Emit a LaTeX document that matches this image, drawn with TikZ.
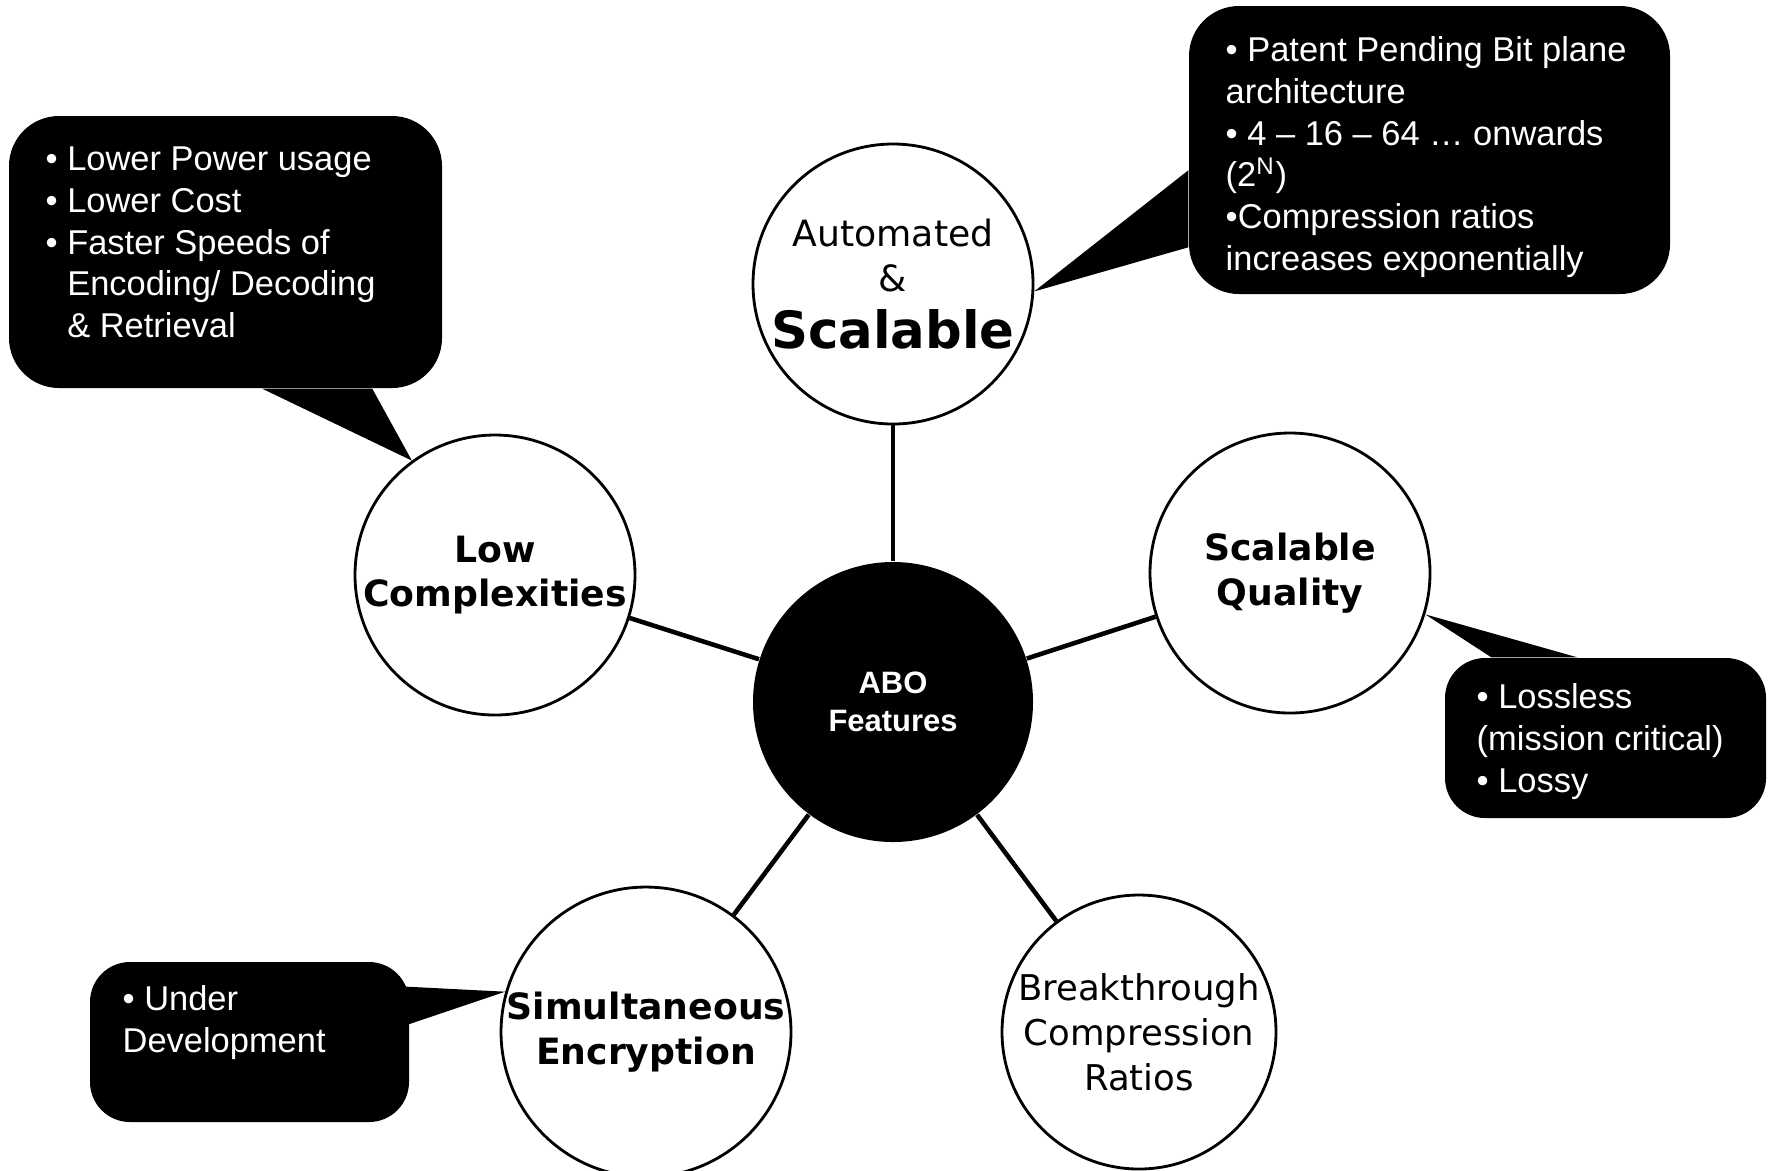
\documentclass[tikz,border=0pt]{standalone}
\usepackage{fontspec}
\setmainfont{Liberation Sans}
\newfontfamily\circfont{DejaVu Sans}

\tikzset{
	feature/.style={circle, draw=black, line width=0.8pt, fill=white,
		minimum size=28mm, inner sep=0pt, align=center,
		font=\circfont\fontsize{10.3}{12.75}\selectfont},
	lowfeature/.style={feature, minimum size=27.4mm},
	core/.style={circle, fill=black, minimum size=28mm, inner sep=0pt,
		align=center, text=white, font=\fontsize{8.8}{10.8}\selectfont\bfseries},
	spoke/.style={line width=1.3pt},
	notebox/.style={fill=black, rounded corners=5mm, inner sep=0pt},
	notetext/.style={text=white, align=left, anchor=north west, inner sep=0pt,
		font=\fontsize{9.8}{11.85}\selectfont},
	tail/.style={fill=black}
}
\newcommand{\hang}{\hphantom{\textbullet\ }}

\begin{document}
\begin{tikzpicture}[x=0.1mm, y=-0.1mm]
	\useasboundingbox (0,0) rectangle (1772,1170);
	
	\node[core] (abo) at (893,702) {ABO\\Features};
	
	\node[feature] (auto) at (893,284) {Automated\\\&\\[3.4pt]{\fontsize{14.6}{16}\selectfont\bfseries Scalable}};
	\node[feature, font=\circfont\fontsize{10.3}{12.75}\selectfont\bfseries] (low) at (495,575) {Low\\Complexities};
	\node[feature, font=\circfont\fontsize{10.3}{12.75}\selectfont\bfseries] (qual) at (1290,573) {Scalable\\Quality};
	\node[lowfeature, font=\circfont\fontsize{10.3}{12.75}\selectfont\bfseries] (enc) at (646,1032) {Simultaneous\\Encryption};
	\node[lowfeature, font=\circfont\fontsize{10.1}{12.8}\selectfont] (ratio) at (1139,1032) {Breakthrough\\Compression\\Ratios};
	
	\draw[spoke] (abo) -- (auto);
	\draw[spoke] (abo) -- (low);
	\draw[spoke] (abo) -- (qual);
	\draw[spoke] (abo) -- (enc);
	\draw[spoke] (abo) -- (ratio);
	
	% callouts
	\node[notebox, minimum width=43.3mm, minimum height=27.2mm] (lownote) at (225.5,252) {};
	\fill[tail] ([xshift=25.4mm]lownote.south west) -- (low.126) -- ([xshift=36.4mm]lownote.south west) -- cycle;
	\node[notetext] at (45,141) {\strut\textbullet\ Lower Power usage\\
		\textbullet\ Lower Cost\\
		\textbullet\ Faster Speeds of\\
		\hang Encoding/ Decoding\\
		\hang\& Retrieval};
	
	\node[notebox, minimum width=48.1mm, minimum height=28.8mm] (autonote) at (1429.5,150) {};
	\fill[tail] ([yshift=-16.5mm]autonote.north west) -- (auto.-3) -- ([yshift=-24.2mm]autonote.north west) -- cycle;
	\node[notetext] at (1225,32) {\strut\textbullet\ Patent Pending Bit plane\\
		architecture\\
		\textbullet\ 4 – 16 – 64 … onwards\\
		(2\textsuperscript{N})\\
		\textbullet Compression ratios\\
		increases exponentially};
	
	\node[notebox, rounded corners=4mm, minimum width=32.1mm, minimum height=16mm] (qualnote) at (1605.5,738) {};
	\fill[tail] ([xshift=4.7mm]qualnote.north west) -- (qual.-17) -- ([xshift=13.3mm]qualnote.north west) -- cycle;
	\node[notetext] at (1476,679) {\strut\textbullet\ Lossless\\
		(mission critical)\\
		\textbullet\ Lossy};
	
	\node[notebox, rounded corners=4mm, minimum width=31.9mm, minimum height=16mm] (encnote) at (249.5,1042) {};
	\fill[tail] ([xshift=-1mm, yshift=-2.5mm]encnote.north east) -- (enc.164) -- ([xshift=-1mm, yshift=-6.6mm]encnote.north east) -- cycle;
	\node[notetext] at (122,981) {\strut\textbullet\ Under\\
		Development};
\end{tikzpicture}
\end{document}
